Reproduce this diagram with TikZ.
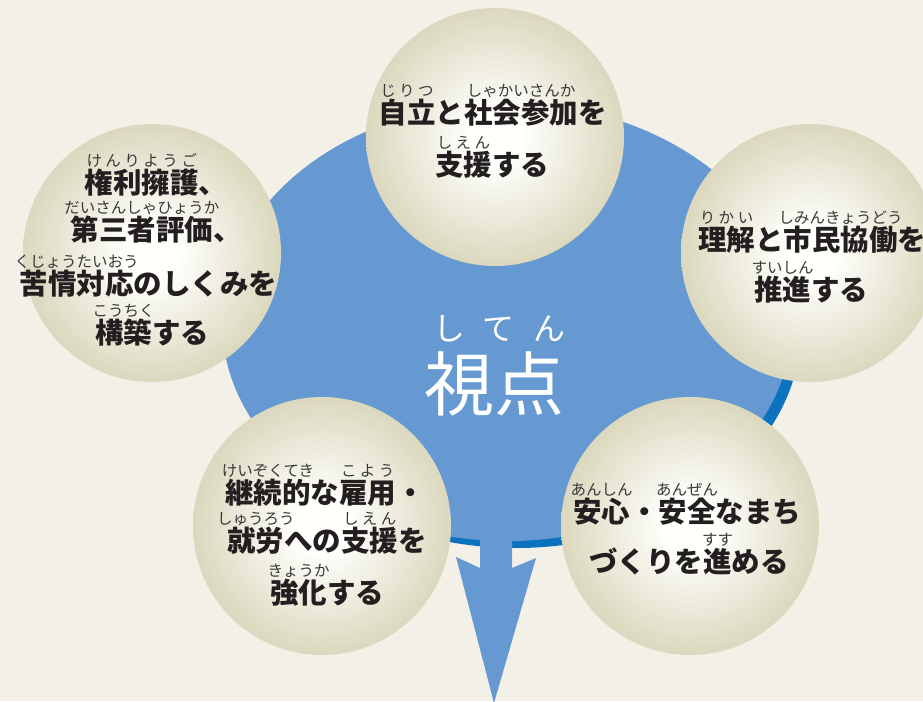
\documentclass[tikz,border=0pt]{standalone}
\usepackage{fontspec}
\setmainfont{Noto Sans CJK JP}
\usetikzlibrary{shapes.geometric}
\definecolor{bg}{HTML}{F3F0E8}
\definecolor{blueL}{HTML}{6699D2}
\definecolor{blueD}{HTML}{0B72BF}
\definecolor{ballc}{HTML}{FFFFFC}
\definecolor{ballm}{HTML}{D8D4B8}
\definecolor{ballo}{HTML}{BBB690}
\definecolor{txt}{HTML}{231F20}
\definecolor{rubyc}{HTML}{383838}
\pgfdeclareradialshading{ball}{\pgfpoint{0bp}{0bp}}{color(0bp)=(ballc); color(5bp)=(ballc); color(27bp)=(ballm); color(50bp)=(ballo)}
\newbox\rbbox
\newcommand\rubysize{\fontsize{15.5pt}{15.5pt}\selectfont}
\newcommand\rsp{\hfil}
% natural ruby, centred above base
\newcommand\rb[2]{\setbox\rbbox\hbox{#1}\hbox to\wd\rbbox{\hss\raisebox{27pt}[0pt][0pt]{\makebox[0pt]{\mdseries\rubysize\color{rubyc}#2}}\hss}\kern-\wd\rbbox\box\rbbox}
% spread ruby
\newcommand\rbs[2]{\setbox\rbbox\hbox{#1}\hbox to\wd\rbbox{\raisebox{27pt}[0pt][0pt]{\hbox to\wd\rbbox{\mdseries\rubysize\color{rubyc}\hskip0pt plus .5fil #2\hskip0pt plus .5fil}}}\kern-\wd\rbbox\box\rbbox}
\tikzset{
  ballnode/.style={circle, minimum size=258pt, inner sep=0pt, shading=ball, draw=none},
  jline/.style={anchor=base, inner sep=0pt, text=txt, font=\fontsize{28.5pt}{28.5pt}\selectfont\bfseries},
  ctr/.style={anchor=base, inner sep=0pt, text=white}
}
\begin{document}
\begin{tikzpicture}[x=1pt,y=-1pt]
\useasboundingbox (0,0) rectangle (923,701);
\fill[bg] (0,0) rectangle (923,701);
\clip (0,0) rectangle (923,701);
% central blob
\fill[blueD] (516,329) ellipse [x radius=285pt, y radius=219pt];
\fill[blueL] (507,322) ellipse [x radius=285pt, y radius=219pt];
% arrow
\fill[blueL] (480,500) -- (480,568) -- (456,557) -- (494,703) -- (536,558) -- (512,568) -- (512,500) -- cycle;
% circles
\node[ballnode] (ctop) at (495,137) {};
\node[ballnode] (cleft) at (152,253) {};
\node[ballnode] (cright) at (810,253) {};
\node[ballnode] (cbl) at (322,526) {};
\node[ballnode] (cbr) at (690,526) {};
% centre text
\node[ctr, font=\fontsize{32pt}{32pt}\selectfont] (shiten) at (499,340) {\hbox to 132pt{し\hfil て\hfil ん}};
\node[ctr, font=\fontsize{70pt}{70pt}\selectfont] (viewpt) at (494,410) {視点};
% top
\node[jline] (t1) at (492.5,123.8) {\rbs{自立}{じ\rsp り\rsp つ}と\rb{社会参加}{しゃかいさんか}を};
\node[jline] (t2) at (492,175.8) {\rbs{支援}{し\rsp え\rsp ん}する};
% left
\node[jline] (l1) at (156,193.8) {\rbs{権利擁護}{け\rsp ん\rsp り\rsp よ\rsp う\rsp ご}、};
\node[jline] (l2) at (156,240.8) {\rb{第三者評価}{だいさんしゃひょうか}、};
\node[jline] (l3) at (148.5,294.3) {\rb{苦情対応}{くじょうたいおう}のしくみを};
\node[jline] (l4) at (152,343.8) {\rb{構築}{こうちく}する};
% right
\node[jline] (r1) at (812,250.8) {\rbs{理解}{り\rsp か\rsp い}と\rb{市民協働}{しみんきょうどう}を};
\node[jline] (r2) at (811,300.8) {\rb{推進}{すいしん}する};
% bottom left
\node[jline] (b1) at (325,503.8) {\rb{継続的}{けいぞくてき}な\rbs{雇用}{こ\rsp よ\rsp う}・};
\node[jline] (b2) at (327,551.8) {\rb{就労}{しゅうろう}への\rbs{支援}{し\rsp え\rsp ん}を};
\node[jline] (b3) at (327,603.8) {\rb{強化}{きょうか}する};
% bottom right
\node[jline] (e1) at (687,522.8) {\rb{安心}{あんしん}・\rb{安全}{あんぜん}なまち};
\node[jline] (e2) at (689,572.8) {づくりを\rb{進}{すす}める};
\end{tikzpicture}
\end{document}
